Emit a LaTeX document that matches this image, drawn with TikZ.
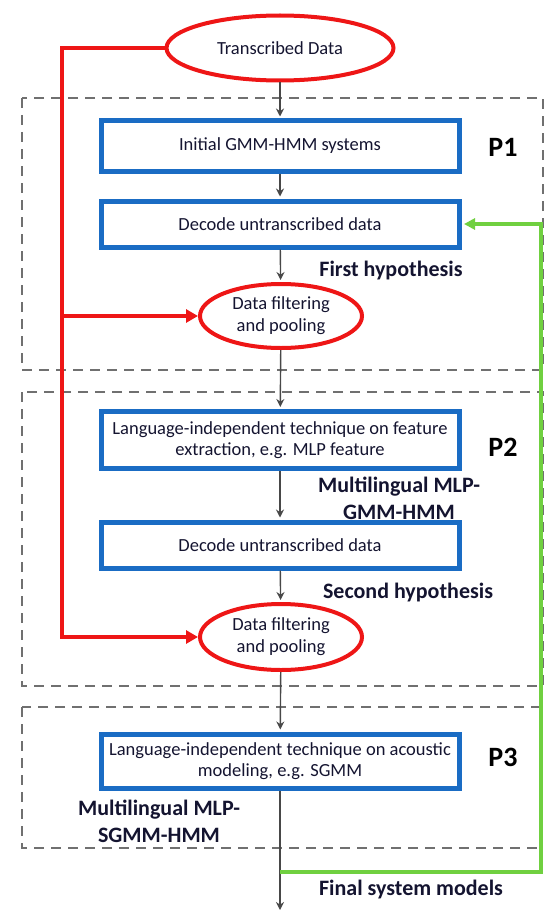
\documentclass[tikz,border=0pt]{standalone}
\usepackage{fontspec}
\setmainfont{Carlito}
\usetikzlibrary{shapes.geometric,arrows.meta}
\definecolor{boxblue}{RGB}{26,108,196}
\definecolor{redc}{RGB}{238,22,22}
\definecolor{greenc}{RGB}{112,208,64}
\definecolor{arrowgray}{RGB}{72,72,72}
\definecolor{dashgray}{RGB}{112,112,112}
\definecolor{txt}{RGB}{20,20,48}
\begin{document}
\begin{tikzpicture}[x=1pt,y=-1pt,
  procbox/.style={rectangle, draw=boxblue, line width=5pt, minimum width=358pt,
    text=txt, font=\fontsize{18.5}{21}\selectfont, align=center, inner sep=0pt},
  redell/.style={ellipse, draw=redc, line width=4pt, text=txt,
    font=\fontsize{18.5}{22}\selectfont, align=center, inner sep=0pt},
  flowarrow/.style={draw=arrowgray, line width=1.4pt, -{Stealth[length=8pt,width=8pt]}, shorten >=2pt},
  redline/.style={draw=redc, line width=4.5pt, -{Triangle[length=12pt,width=13pt]}},
  greenline/.style={draw=greenc, line width=4pt, -{Triangle[length=11pt,width=11pt]}, shorten >=2.5pt},
  phasebox/.style={draw=dashgray, line width=1.4pt, dash pattern=on 10pt off 7pt},
  hyplabel/.style={text=txt, font=\bfseries\fontsize{22}{27}\selectfont, align=center, inner sep=0pt},
  plabel/.style={text=black, font=\bfseries\fontsize{28}{30}\selectfont, inner sep=0pt}
]
\useasboundingbox (0,0) rectangle (548,915);

% phase boxes
\draw[phasebox] (22,98) rectangle (543,370);
\draw[phasebox] (22,392) rectangle (543,686);
\draw[phasebox] (22,707) rectangle (540,848);

% nodes
\node[redell, minimum width=227pt, minimum height=65pt] (td) at (280,48) {Transcribed Data};
\node[procbox, minimum height=50pt] (init) at (280,146) {Initial GMM-HMM systems};
\node[procbox, minimum height=46pt] (dec1) at (280,224) {Decode untranscribed data};
\node[redell, minimum width=162pt, minimum height=64pt] (filt1) at (281,316) {Data filtering\\and pooling};
\node[procbox, minimum height=57pt] (li1) at (280,440) {Language-independent technique on feature\\extraction, e.g. MLP feature};
\node[procbox, minimum height=46pt] (dec2) at (280,545) {Decode untranscribed data};
\node[redell, minimum width=162pt, minimum height=66pt] (filt2) at (281,637) {Data filtering\\and pooling};
\node[procbox, minimum height=54pt] (li2) at (280,761) {Language-independent technique on acoustic\\modeling, e.g. SGMM};

% labels
\node[plabel] (p1) at (503,147) {P1};
\node[plabel] (p2) at (503,447) {P2};
\node[plabel] (p3) at (503,757) {P3};
\node[hyplabel] (h1) at (391,271) {First hypothesis};
\node[hyplabel] (m1) at (399,498) {Multilingual MLP-\\GMM-HMM};
\node[hyplabel] (h2) at (408,593) {Second hypothesis};
\node[hyplabel] (m2) at (159,821) {Multilingual MLP-\\SGMM-HMM};
\node[hyplabel] (fin) at (411,890) {Final system models};

% coordinates
\coordinate (rbot) at (62,637);
\coordinate (rmid) at (62,316);
\coordinate (endpt) at (280,910);
\coordinate (gstart) at (280,872);
\coordinate (gcorner) at (541,872);

% flow arrows
\draw[flowarrow] (td) -- (init);
\draw[flowarrow] (init) -- (dec1);
\draw[flowarrow] (dec1) -- (filt1);
\draw[flowarrow] (filt1) -- (li1);
\draw[flowarrow] (li1) -- (dec2);
\draw[flowarrow] (dec2) -- (filt2);
\draw[flowarrow] (filt2) -- (li2);
\draw[flowarrow, shorten >=0pt] (li2) -- (endpt);

% red feed
\draw[redline] (td.west) -| (rbot) -- (filt2.west);
\draw[redline] (rmid) -- (filt1.west);

% green feedback
\draw[greenline] (gstart) -- (gcorner) |- (dec1.east);
\end{tikzpicture}
\end{document}
